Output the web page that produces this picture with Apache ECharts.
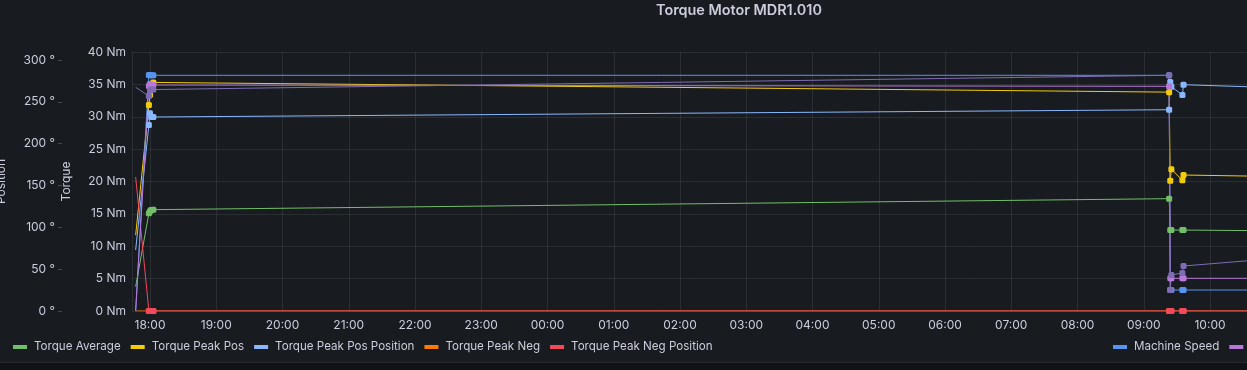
<!DOCTYPE html>
<html>
<head>
<meta charset="utf-8">
<script src="https://cdn.jsdelivr.net/npm/echarts@6/dist/echarts.min.js"></script>
<style>
  html, body { margin: 0; padding: 0; background: #111217; overflow: hidden; }
  #chart { width: 1247px; height: 362px; background: #181b1f; border-bottom: 1px solid #25282e; }
</style>
</head>
<body>
<div id="chart"></div>
<script>
// ---- data ----
const times = [
  '2024-01-01 17:47', '2024-01-01 17:59', '2024-01-01 18:00', '2024-01-01 18:01', '2024-01-01 18:03',
  '2024-01-02 09:23', '2024-01-02 09:24', '2024-01-02 09:25', '2024-01-02 09:35', '2024-01-02 09:36',
  '2024-01-02 10:50'
];
const torqueAverage        = [3.75, 15.1, 15.4, 15.6, 15.65, 17.35, 12.5, 12.5, 12.5, 12.5, 12.4];
const torquePeakPos        = [11.7, 31.8, 33.4, 34.9, 35.3, 33.8, 20.1, 21.9, 20.2, 21.0, 20.8];
const torquePeakPosPosition= [72.9, 222.3, 236.3, 231.9, 231.9, 240.6, 273.7, 268.1, 258.2, 270.5, 267.4];
const torquePeakNeg        = [0, 0, 0, 0, 0, 0, 0, 0, 0, 0, 0];
const torquePeakNegPosition= [160.2, 0, 0, 0, 0, 0, 0, 0, 0, 0, 0];
const machineSpeed         = [0, 36.45, 36.4, 36.4, 36.4, 36.4, 3.24, 3.24, 3.24, 3.24, 3.24];
const motorLoad            = [0, 34.75, 35.06, 34.9, 34.9, 34.7, 5.05, 5.05, 5.05, 5.05, 5.05];
const machineLoad          = [34.55, 33.2, 34.1, 34.2, 34.2, 36.4, 3.24, 5.56, 5.87, 6.95, 7.98];

const positionTicks = [0, 50, 100, 150, 200, 250, 300];
const torqueTicks   = [0, 5, 10, 15, 20, 25, 30, 35, 40];
const xMin = '2024-01-01 17:43:42';
const xMax = '2024-01-02 10:33:30';

const TXT = '#ccccdc';
const FONT = 'Inter';

function pairs(vals) { return times.map((t, i) => [t, vals[i]]); }

function line(name, color, vals, yAxisIndex) {
  return {
    name, type: 'line', yAxisIndex,
    data: pairs(vals),
    color,
    showSymbol: true, showAllSymbol: true,
    symbol: 'roundRect',
    symbolSize: (v, p) => (p.dataIndex === 0 ? 0 : 6),
    lineStyle: { width: 1, color },
    itemStyle: { color },
    emphasis: { disabled: true },
    clip: true
  };
}

const legendText = { color: TXT, fontSize: 11.6, fontFamily: FONT, padding: [0, 0, 0, 2] };

const chart = echarts.init(document.getElementById('chart'));
chart.setOption({
  backgroundColor: '#181b1f',
  animation: false,
  textStyle: { fontFamily: FONT },
  graphic: [{
    type: 'text', left: 656, top: 4,
    style: { text: 'Torque Motor MDR1.010', fill: TXT, font: '600 14.4px Inter' }
  }],
  legend: [{
    left: 13, top: 341, width: 900, padding: 0,
    itemWidth: 14, itemHeight: 4, itemGap: 10,
    icon: 'rect',
    textStyle: legendText,
    data: ['Torque Average', 'Torque Peak Pos', 'Torque Peak Pos Position', 'Torque Peak Neg', 'Torque Peak Neg Position']
  }, {
    left: 1113, top: 341, width: 600, padding: 0,
    itemWidth: 14, itemHeight: 4, itemGap: 10,
    icon: 'rect',
    textStyle: legendText,
    data: ['Machine Speed', 'Motor Load']
  }],
  grid: { left: 132, right: 0, top: 52, bottom: 51, containLabel: false, outerBoundsMode: 'none' },
  xAxis: {
    type: 'time', min: xMin, max: xMax,
    minInterval: 3600000, maxInterval: 3600000,
    axisLine: { show: false }, axisTick: { show: false },
    axisLabel: { color: TXT, fontSize: 12, fontFamily: FONT, margin: 8, formatter: '{HH}:{mm}', hideOverlap: false },
    splitLine: { show: true, lineStyle: { color: 'rgba(204,204,220,0.1)', width: 1 } }
  },
  yAxis: [{
    type: 'value', position: 'left', offset: 70,
    min: 0, max: 309.6,
    name: 'Position', nameLocation: 'middle', nameGap: 55,
    nameTextStyle: { color: TXT, fontSize: 12, fontFamily: FONT },
    axisLine: { show: false },
    axisTick: { show: true, length: 4, customValues: positionTicks, lineStyle: { color: 'rgba(204,204,220,0.25)' } },
    axisLabel: { color: TXT, fontSize: 12, fontFamily: FONT, margin: 7, customValues: positionTicks, formatter: v => v + ' °' },
    splitLine: { show: false }
  }, {
    type: 'value', position: 'left', offset: 0,
    min: 0, max: 40, interval: 5,
    name: 'Torque', nameLocation: 'middle', nameGap: 60,
    nameTextStyle: { color: TXT, fontSize: 12, fontFamily: FONT },
    axisLine: { show: false }, axisTick: { show: false },
    axisLabel: { color: TXT, fontSize: 12, fontFamily: FONT, margin: 6, customValues: torqueTicks, formatter: v => v + ' Nm' },
    splitLine: { show: true, lineStyle: { color: 'rgba(204,204,220,0.1)', width: 1 } }
  }],
  series: [
    line('Torque Average', '#73BF69', torqueAverage, 1),
    line('Torque Peak Pos', '#F2CC0C', torquePeakPos, 1),
    line('Torque Peak Pos Position', '#8AB8FF', torquePeakPosPosition, 0),
    line('Torque Peak Neg', '#FF780A', torquePeakNeg, 1),
    line('Torque Peak Neg Position', '#F2495C', torquePeakNegPosition, 0),
    line('Machine Speed', '#5794F2', machineSpeed, 1),
    line('Motor Load', '#B877D9', motorLoad, 1),
    line('Machine Load', '#7E6CB4', machineLoad, 1)
  ]
});
</script>
</body>
</html>
